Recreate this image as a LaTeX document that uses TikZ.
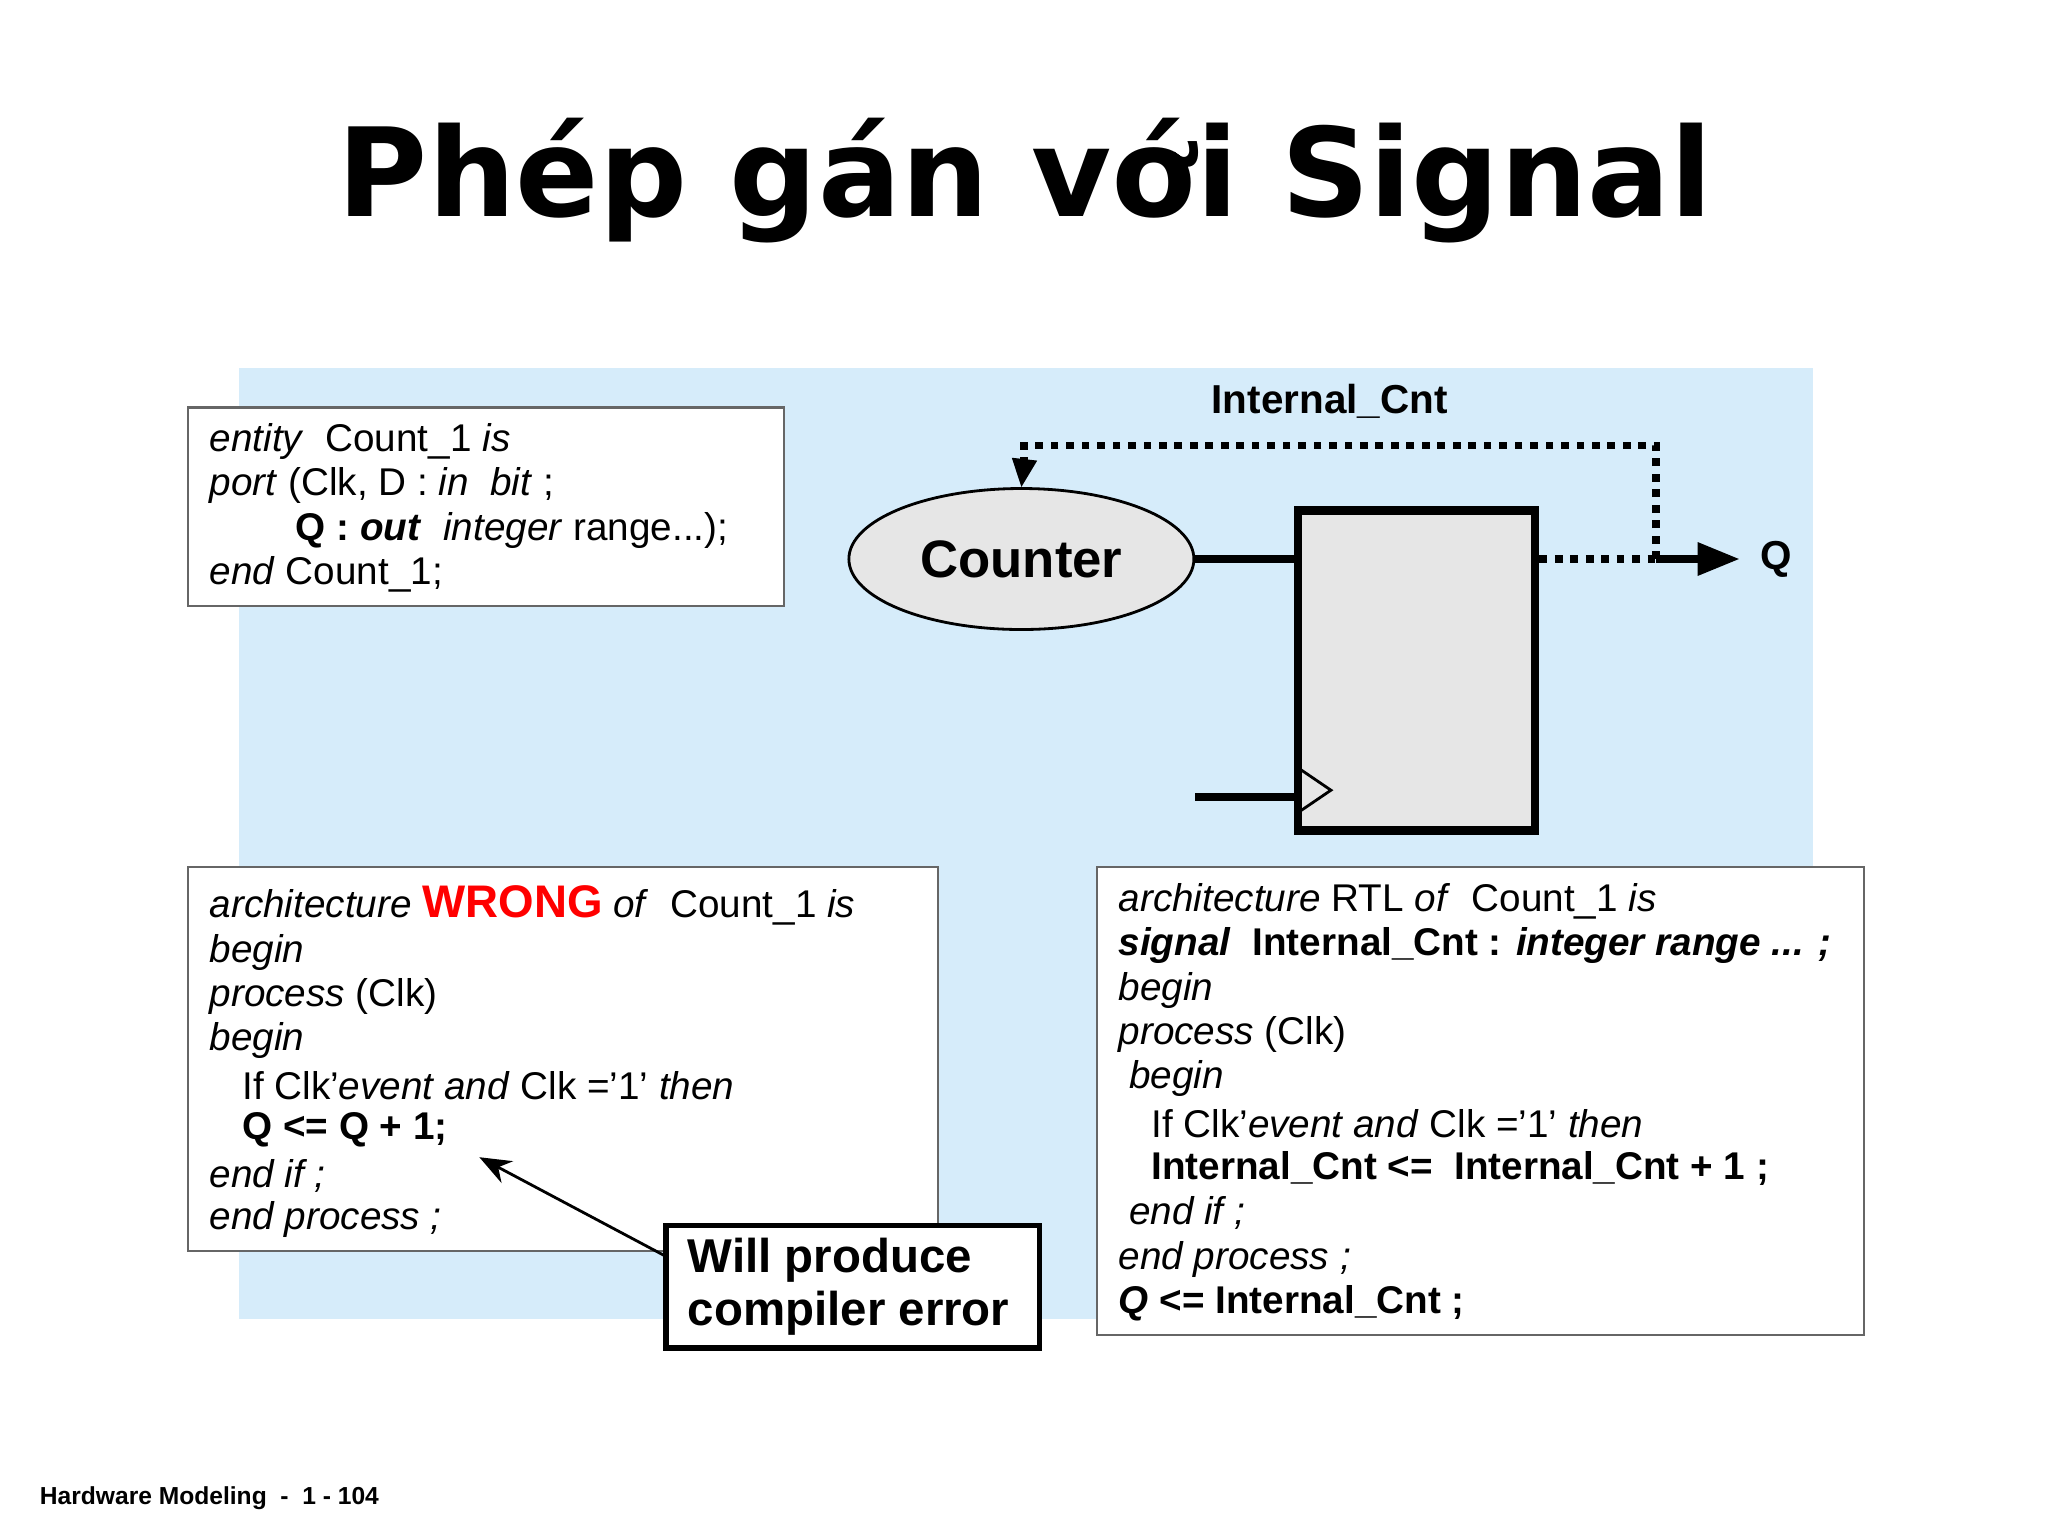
\documentclass[tikz,border=0pt]{standalone}
\usepackage{fontspec}
\setmainfont{Liberation Sans}
\newfontfamily\titlefont{DejaVu Sans}
\usetikzlibrary{arrows.meta,shapes.geometric}
\definecolor{bgblue}{HTML}{D6ECFA}
\definecolor{lgray}{HTML}{E6E6E6}
\begin{document}
\begin{tikzpicture}[x=0.01306cm,y=-0.01306cm,
  code/.style={draw=gray!80!black,fill=white,line width=0.6pt},
  ln/.style={anchor=west,inner sep=0pt,font=\fontsize{11}{13}\selectfont},
  thickl/.style={line width=2.2pt},
  dots/.style={line width=2.2pt,dash pattern=on 2.2pt off 2.2pt}]
\useasboundingbox (0,0) rectangle (1568,1176);
\fill[white] (0,0) rectangle (1568,1176);
\node[font=\titlefont\bfseries\fontsize{35}{40}\selectfont] (title) at (785,138) {Phép gán với Signal};
\fill[bgblue] (183,282) rectangle (1388,1010);
% entity box
\draw[code] (144,312) rectangle (600,464);
\node[ln] (e1) at (160,338) {\textit{entity}\ \ Count\_1 \textit{is}};
\node[ln] (e2) at (160,372) {\textit{port} (Clk, D : \textit{in}\ \ \textit{bit} ;};
\node[ln] (e3) at (226,406) {\textbf{Q : \textit{out}}\ \ \textit{integer} range...);};
\node[ln] (e4) at (160,440) {\textit{end} Count\_1;};
% diagram
\node[draw,fill=lgray,ellipse,line width=0.8pt,inner sep=0pt,
  minimum width=3.45cm,minimum height=1.41cm,font=\bfseries\fontsize{15}{18}\selectfont] (cnt) at (782,428) {Counter};
\node[draw,fill=lgray,line width=2.5pt,minimum width=2.37cm,minimum height=3.2cm,inner sep=0pt] (reg) at (1084.5,513.5) {};
\draw[thickl] (cnt.east) -- (reg.west |- cnt.east);
\coordinate (clkin) at (915,610);
\draw[thickl] (clkin) -- (reg.west |- clkin);
\draw[line width=0.8pt] (994,588) -- (1019,605) -- (994,622);
\coordinate (split) at (1268,428);
\coordinate (qend) at (1332,428);
\coordinate (tl) at (1268,341);
\coordinate (tr) at (784,341);
\draw[dots] (reg.east |- split) -- (split);
\draw[thickl,-{Triangle[length=12pt,width=9pt]}] (split) -- (qend);
\node[font=\bfseries\fontsize{11.5}{14}\selectfont] (q) at (1360,428) {Q};
\draw[dots] (split) -- (tl) -- (tr) -- ++(0,16);
\draw[line width=1pt,-{Triangle[length=8pt,width=7pt]}] (784,355) -- (cnt.north);
\node[font=\bfseries\fontsize{11.5}{14}\selectfont] (ic) at (1018,307) {Internal\_Cnt};
% wrong box
\draw[code] (144,664) rectangle (718,958);
\node[ln] (w1) at (160,693) {\textit{architecture} {\color{red}\bfseries\fontsize{13}{16}\selectfont WRONG} \textit{of}\ \ Count\_1 \textit{is}};
\node[ln] (w2) at (160,729) {\textit{begin}};
\node[ln] (w3) at (160,763) {\textit{process} (Clk)};
\node[ln] (w4) at (160,797) {\textit{begin}};
\node[ln] (w5) at (185,831) {If Clk'\textit{event and} Clk ='1' \textit{then}};
\node[ln] (w6) at (185,865) {\textbf{Q <= Q + 1;}};
\node[ln] (w7) at (160,900) {\textit{end if ;}};
\node[ln] (w8) at (160,934) {\textit{end process ;}};
% rtl box
\draw[code] (840,664) rectangle (1427,1022);
\node[ln] (r1) at (856,690) {\textit{architecture} RTL \textit{of}\ \ Count\_1 \textit{is}};
\node[ln] (r2) at (856,724) {\textbf{\textit{signal}\ \ Internal\_Cnt : \textit{integer range ... ;}}};
\node[ln] (r3) at (856,758) {\textit{begin}};
\node[ln] (r4) at (856,792) {\textit{process} (Clk)};
\node[ln] (r5) at (864,826) {\textit{begin}};
\node[ln] (r6) at (881,860) {If Clk'\textit{event and} Clk ='1' \textit{then}};
\node[ln] (r7) at (881,895) {\textbf{Internal\_Cnt <=\ \ Internal\_Cnt + 1 ;}};
\node[ln] (r8) at (864,929) {\textit{end if ;}};
\node[ln] (r9) at (856,964) {\textit{end process ;}};
\node[ln] (r10) at (856,998) {\textbf{\textit{Q} <= Internal\_Cnt ;}};
% error box
\draw[line width=1.5pt,fill=white] (510,938) rectangle (796,1032);
\node[anchor=west,inner sep=0pt,align=left,font=\bfseries\fontsize{13.5}{15}\selectfont] (err) at (526,985) {Will produce\\compiler error};
\coordinate (errp) at (510,962);
\draw[line width=0.8pt,-{Stealth[length=9pt,width=7pt]}] (errp) -- (367,886);
\node[anchor=west,inner sep=0pt,font=\bfseries\fontsize{7}{9}\selectfont] (foot) at (30,1147) {Hardware Modeling\ \ -\ \ 1 - 104};
\end{tikzpicture}
\end{document}
